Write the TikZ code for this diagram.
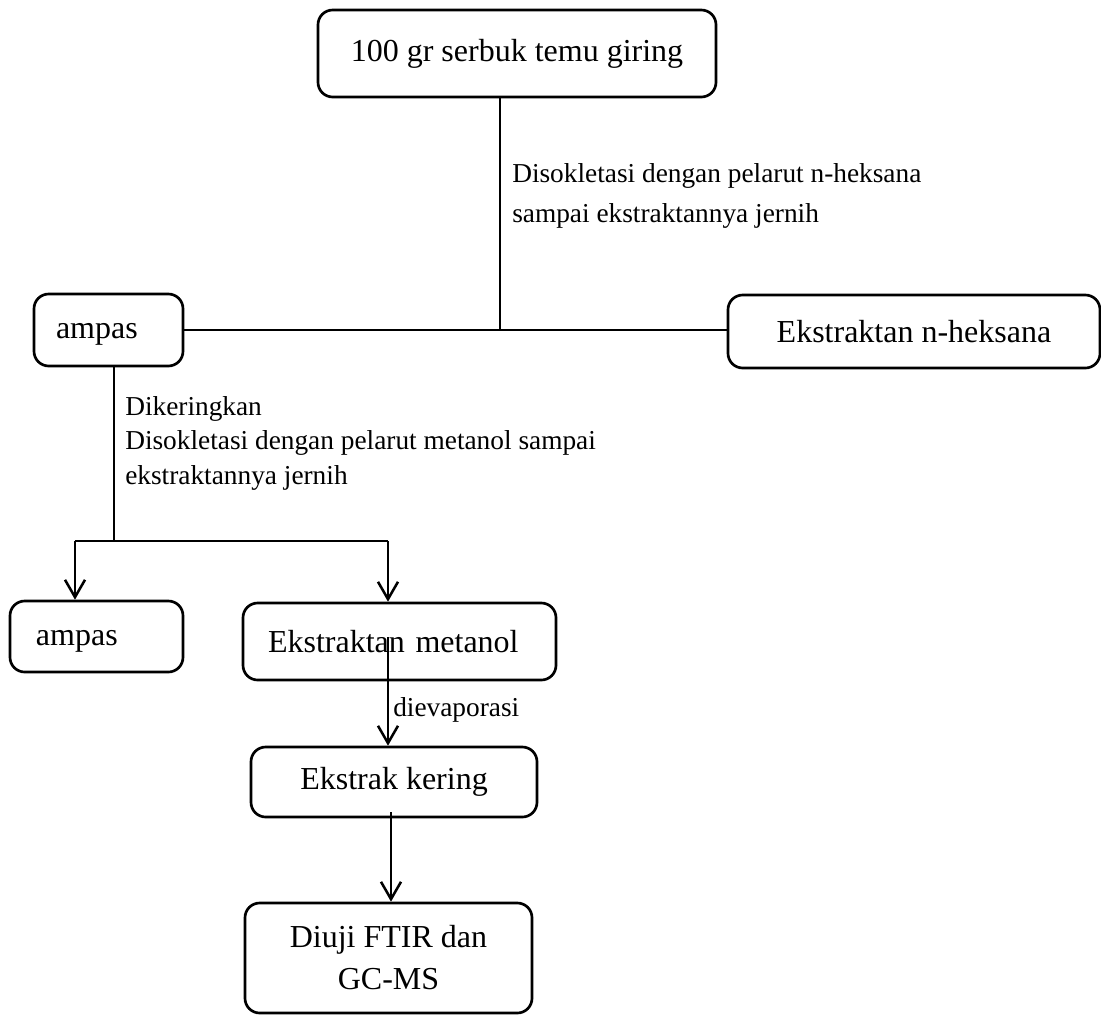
\documentclass[tikz,border=0pt]{standalone}
\usepackage{fontspec}
\setmainfont{Liberation Serif}
\usetikzlibrary{arrows.meta}
\begin{document}
\begin{tikzpicture}[x=0.75pt,y=-0.75pt,
  box/.style={draw, line width=2pt, rounded corners=11pt, font=\fontsize{24pt}{31.5pt}\selectfont, inner sep=0pt},
  lab/.style={inner sep=0pt, align=left},
  conn/.style={line width=1.9pt},
  arr/.style={conn, -{Straight Barb[length=13pt,width=15pt]}}]
\useasboundingbox (0,0) rectangle (1101,1015);
% boxes
\node[box, minimum width=298.5pt, minimum height=65.25pt] (top) at (517,53.5) {100 gr serbuk temu giring};
\node[box, minimum width=111.75pt, minimum height=54pt, inner xsep=16.5pt, text width=78.75pt, text height=17.5pt, text depth=5pt, align=left] (ampas1) at (108.5,330) {ampas};
\node[box, minimum width=279pt, minimum height=54.75pt] (nhex) at (914,331.5) {Ekstraktan n-heksana};
\node[box, minimum width=129.75pt, minimum height=53.25pt, inner xsep=19.5pt, text width=90.75pt, text height=18pt, text depth=5pt, align=left] (ampas2) at (96.5,636.5) {ampas};
\node[box, minimum width=234.75pt, minimum height=57.75pt, inner xsep=18.75pt, text width=197.25pt, align=left] (metanol) at (399.5,641.5) {Ekstraktan metanol};
\node[box, minimum width=214.5pt, minimum height=52.5pt] (kering) at (394,782) {Ekstrak kering};
\node[box, minimum width=215.25pt, minimum height=82.5pt, align=center] (diuji) at (388.5,958) {Diuji FTIR dan\\GC-MS};
% junctions
\coordinate (j1) at (500,330);
\coordinate (j2) at (114,541);
\coordinate (bl) at (75,541);
\coordinate (br) at (388,541);
\coordinate (m1) at (388,637);
\coordinate (k1) at (391,812);
% connectors
\draw[conn] (top.south -| j1) -- (j1);
\draw[conn] (ampas1.east |- j1) -- (nhex.west |- j1);
\draw[conn] (ampas1.south -| j2) -- (j2);
\draw[conn] (bl) -- (br);
\draw[arr] (bl) -- (bl |- ampas2.north);
\draw[arr] (br) -- (br |- metanol.north);
\draw[arr] (m1) -- (m1 |- kering.north);
\draw[arr] (k1) -- (k1 |- diuji.north);
% labels
\node[lab, anchor=north west, font=\fontsize{20.5pt}{30pt}\selectfont] (l1) at (512,163) {Disokletasi dengan pelarut n-heksana\\sampai ekstraktannya jernih};
\node[lab, anchor=north west, font=\fontsize{20.5pt}{25.9pt}\selectfont] (l2) at (125,396) {Dikeringkan\\Disokletasi dengan pelarut metanol sampai\\ekstraktannya jernih};
\node[lab, anchor=base west, font=\fontsize{20.5pt}{25.9pt}\selectfont] (l3) at (393,716) {dievaporasi};
\end{tikzpicture}
\end{document}
